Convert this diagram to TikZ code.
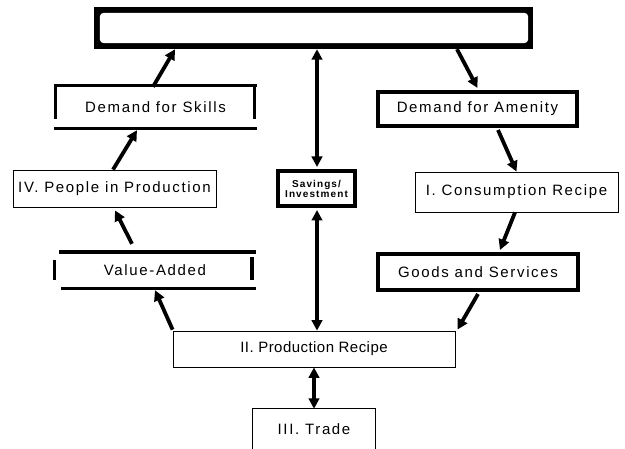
\documentclass[tikz,border=0pt]{standalone}
\usepackage{fontspec}
\setmainfont{Liberation Sans}[LetterSpace=11]
\newfontfamily\prodfont{Liberation Sans}[LetterSpace=3]
\newfontfamily\savfont{Liberation Sans}[LetterSpace=11]
\usetikzlibrary{arrows.meta,calc}
\begin{document}
\begin{tikzpicture}[x=1pt,y=-1pt,
  lbl/.style={font=\fontsize{15}{17}\selectfont},
  thinbox/.style={draw, line width=0.8pt, inner sep=0pt, lbl},
  thickbox/.style={draw, line width=4pt, inner sep=0pt, lbl},
  openbox/.style={inner sep=0pt, lbl},
  arr/.style={line width=3.8pt, -{Triangle[length=10.5pt,width=10.5pt]}},
  darr/.style={line width=3.8pt, {Triangle[length=10.5pt,width=10.5pt]}-{Triangle[length=10.5pt,width=10.5pt]}},
  bar/.style={line width=3pt}
]
\useasboundingbox (0,0) rectangle (625,449);

% top banner
\node[fill=black, minimum width=439pt, minimum height=42pt, inner sep=0pt] (top) at (313.5,28) {};
\fill[white, rounded corners=4pt] ($(top.north west)+(6,6)$) rectangle ($(top.south east)+(-5,-6)$);

% Demand for Skills (open bracket box)
\node[openbox, minimum width=202pt, minimum height=42pt] (dskill) at (155.5,107) {Demand for Skills};
\draw[bar] (dskill.north west) -- (dskill.north east);
\draw[bar] (dskill.south west) -- (dskill.south east);
\draw[bar] ($(dskill.north west)+(1.5,0)$) -- ($(dskill.south west)+(1.5,-9)$);
\draw[bar] ($(dskill.north east)+(-2,0)$) -- ($(dskill.south east)+(-2,-9)$);

% Value-Added (open bracket box)
\node[openbox, minimum width=202pt, minimum height=36pt] (valadd) at (155,270) {Value-Added};
\draw[line width=4pt] ($(valadd.north west)+(5,0)$) -- (valadd.north east);
\draw[bar] ($(valadd.south west)+(7,0)$) -- (valadd.south east);
\draw[bar] ($(valadd.north west)+(0.5,8)$) -- ($(valadd.south west)+(0.5,-8)$);
\draw[line width=4pt] ($(valadd.north east)+(-4.5,5)$) -- ($(valadd.south east)+(-4.5,-8)$);

\node[thinbox, minimum width=203pt, minimum height=37pt] (iv) at (114.5,188.5) {IV. People in Production};
\node[thickbox, minimum width=199pt, minimum height=34pt] (damen) at (477.5,109) {Demand for Amenity};
\node[thinbox, minimum width=203pt, minimum height=40pt] (cons) at (516.5,192) {I. Consumption Recipe};
\node[thickbox, minimum width=200pt, minimum height=36pt] (goods) at (478,272) {Goods and Services};
\node[thickbox, minimum width=77pt, minimum height=35pt, align=center,
      font=\savfont\bfseries\fontsize{10}{10}\selectfont] (sav) at (316.5,188.5) {Savings/\\Investment};
\node[thinbox, minimum width=282pt, minimum height=36pt, font=\prodfont\fontsize{15}{17}\selectfont] (prod) at (314,349) {II. Production Recipe};
\node[openbox, minimum width=122pt, minimum height=40pt] (trade) at (314,429) {III. Trade};
\draw[line width=0.8pt] (trade.south west) -- (trade.north west) -- (trade.north east) -- (trade.south east);

% arrows
\draw[arr] ($(prod.north west)+(0,-1)$) -- ($(valadd.south)+(0,2)$);
\draw[arr] ($(valadd.north)+(-23,-8)$) -- ($(iv.south)+(0.5,3)$);
\draw[arr] ($(iv.north)+(-1.5,0)$) -- ($(dskill.south)+(-18.5,2)$);
\draw[arr] ($(dskill.north)+(-2.5,1)$) -- ($(top.south)+(-138.5,0)$);
\draw[arr] ($(top.south)+(143.5,0)$) -- ($(damen.north)+(0,-2)$);
\draw[arr] ($(damen.south)+(20.5,2)$) -- (cons.north);
\draw[arr] ($(cons.south)+(-1.5,0)$) -- ($(goods.north)+(22,-2)$);
\draw[arr] ($(goods.south)+(0,2)$) -- ($(prod.north east)+(2,-1)$);
\draw[darr] ($(top.south)+(3.5,0)$) -- ($(sav.north)+(0.5,-2)$);
\draw[darr] ($(sav.south)+(0.5,2)$) -- ($(prod.north)+(3,0)$);
\draw[darr] (prod.south) -- (trade.north);
\end{tikzpicture}
\end{document}
